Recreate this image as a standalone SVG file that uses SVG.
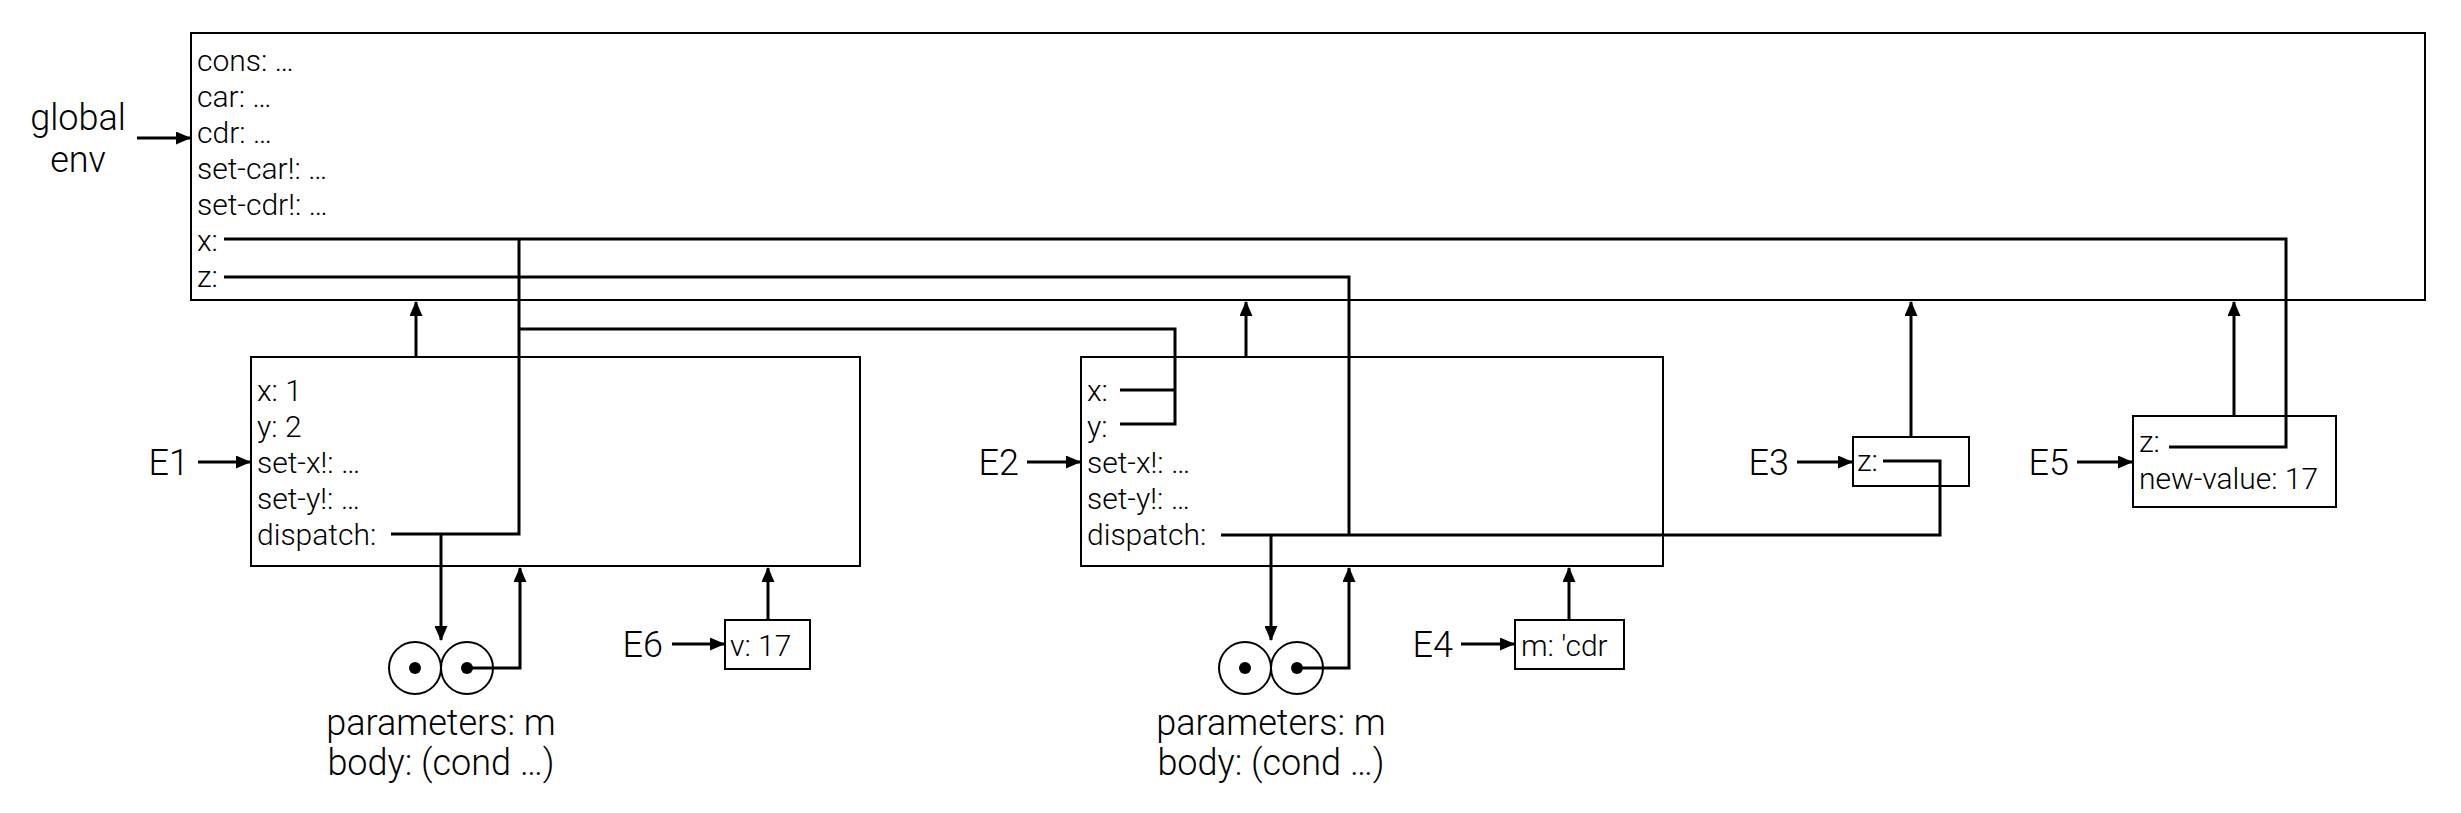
<svg xmlns="http://www.w3.org/2000/svg" width="2461" height="813" viewBox="0 0 2461 813">
<defs>
<marker id="ah" markerUnits="userSpaceOnUse" markerWidth="15" markerHeight="13" refX="14" refY="6.5" orient="auto"><path d="M0,0 L15,6.5 L0,13 z" fill="#000"/></marker>
</defs>
<style>
.box{fill:#fff;stroke:#000;stroke-width:2}
.t{font-family:Roboto,"Liberation Sans",sans-serif;font-weight:300;font-size:30px;fill:#000}
.lbl{font-family:Roboto,"Liberation Sans",sans-serif;font-weight:300;font-size:36px;fill:#000}
.mid{text-anchor:middle}
.end{text-anchor:end}
.c{fill:none;stroke:#000;stroke-width:3}
.a{marker-end:url(#ah)}
.ring{fill:#fff;stroke:#000;stroke-width:2}
.dot{fill:#000}
</style>
<rect width="2461" height="813" fill="#fff"/>

<g id="global">
<rect class="box" x="191" y="33" width="2234" height="267"/>
<text class="t" x="197" y="71">cons: …</text>
<text class="t" x="197" y="107">car: …</text>
<text class="t" x="197" y="143">cdr: …</text>
<text class="t" x="197" y="179">set-car!: …</text>
<text class="t" x="197" y="215">set-cdr!: …</text>
<text class="t" x="197" y="251">x:</text>
<text class="t" x="197" y="287">z:</text>
<text class="lbl mid" x="78" y="130">global</text>
<text class="lbl mid" x="78" y="172">env</text>
</g>

<g id="E1">
<rect class="box" x="251" y="357" width="609" height="209"/>
<text class="t" x="257" y="401">x: 1</text>
<text class="t" x="257" y="437">y: 2</text>
<text class="t" x="257" y="473">set-x!: …</text>
<text class="t" x="257" y="509">set-y!: …</text>
<text class="t" x="257" y="545">dispatch:</text>
<text class="lbl end" x="189" y="475">E1</text>
</g>

<g id="E2">
<rect class="box" x="1081" y="357" width="582" height="209"/>
<text class="t" x="1087" y="401">x:</text>
<text class="t" x="1087" y="437">y:</text>
<text class="t" x="1087" y="473">set-x!: …</text>
<text class="t" x="1087" y="509">set-y!: …</text>
<text class="t" x="1087" y="545">dispatch:</text>
<text class="lbl end" x="1019" y="475">E2</text>
</g>

<g id="E3">
<rect class="box" x="1853" y="437" width="116" height="49"/>
<text class="t" x="1857" y="471">z:</text>
<text class="lbl end" x="1789" y="475">E3</text>
</g>

<g id="E5">
<rect class="box" x="2133" y="416" width="203" height="91"/>
<text class="t" x="2139" y="452">z:</text>
<text class="t" x="2139" y="489">new-value: 17</text>
<text class="lbl end" x="2069" y="475">E5</text>
</g>

<g id="E6">
<rect class="box" x="725" y="620" width="85" height="49"/>
<text class="t" x="730" y="656">v: 17</text>
<text class="lbl end" x="663" y="657">E6</text>
</g>

<g id="E4">
<rect class="box" x="1515" y="620" width="109" height="49"/>
<text class="t" x="1521" y="656">m: 'cdr</text>
<text class="lbl end" x="1453" y="657">E4</text>
</g>

<g id="proc1">
<circle class="ring" cx="415" cy="668" r="26"/>
<circle class="ring" cx="467" cy="668" r="26"/>
<circle class="dot" cx="415" cy="668" r="6"/>
<circle class="dot" cx="467" cy="668" r="6"/>
<text class="lbl mid" x="441" y="735">parameters: m</text>
<text class="lbl mid" x="441" y="775">body: (cond …)</text>
</g>

<g id="proc2">
<circle class="ring" cx="1245" cy="668" r="26"/>
<circle class="ring" cx="1297" cy="668" r="26"/>
<circle class="dot" cx="1245" cy="668" r="6"/>
<circle class="dot" cx="1297" cy="668" r="6"/>
<text class="lbl mid" x="1271" y="735">parameters: m</text>
<text class="lbl mid" x="1271" y="775">body: (cond …)</text>
</g>

<g id="connectors">
<path class="c a" d="M137,138 H190"/>
<path class="c a" d="M198,462 H250"/>
<path class="c a" d="M1027,462 H1080"/>
<path class="c a" d="M1797,462 H1852"/>
<path class="c a" d="M2077,462 H2132"/>
<path class="c a" d="M672,644 H724"/>
<path class="c a" d="M1461,644 H1514"/>
<path class="c a" d="M416,357 V302"/>
<path class="c a" d="M1246,357 V302"/>
<path class="c a" d="M1911,437 V302"/>
<path class="c a" d="M2234,416 V302"/>
<path class="c a" d="M768,620 V568"/>
<path class="c a" d="M1569,620 V568"/>
<path class="c a" d="M467,668 H520 V568"/>
<path class="c a" d="M1297,668 H1349 V568"/>
<path class="c" d="M224,239 H2286 V447 H2169"/>
<path class="c" d="M519,239 V534 H391"/>
<path class="c a" d="M441,534 V640"/>
<path class="c" d="M519,329 H1175 V424 H1120"/>
<path class="c" d="M1175,390 H1120"/>
<path class="c" d="M224,277 H1349 V535"/>
<path class="c" d="M1221,535 H1940 V461 H1883"/>
<path class="c a" d="M1271,535 V640"/>
</g>
</svg>
